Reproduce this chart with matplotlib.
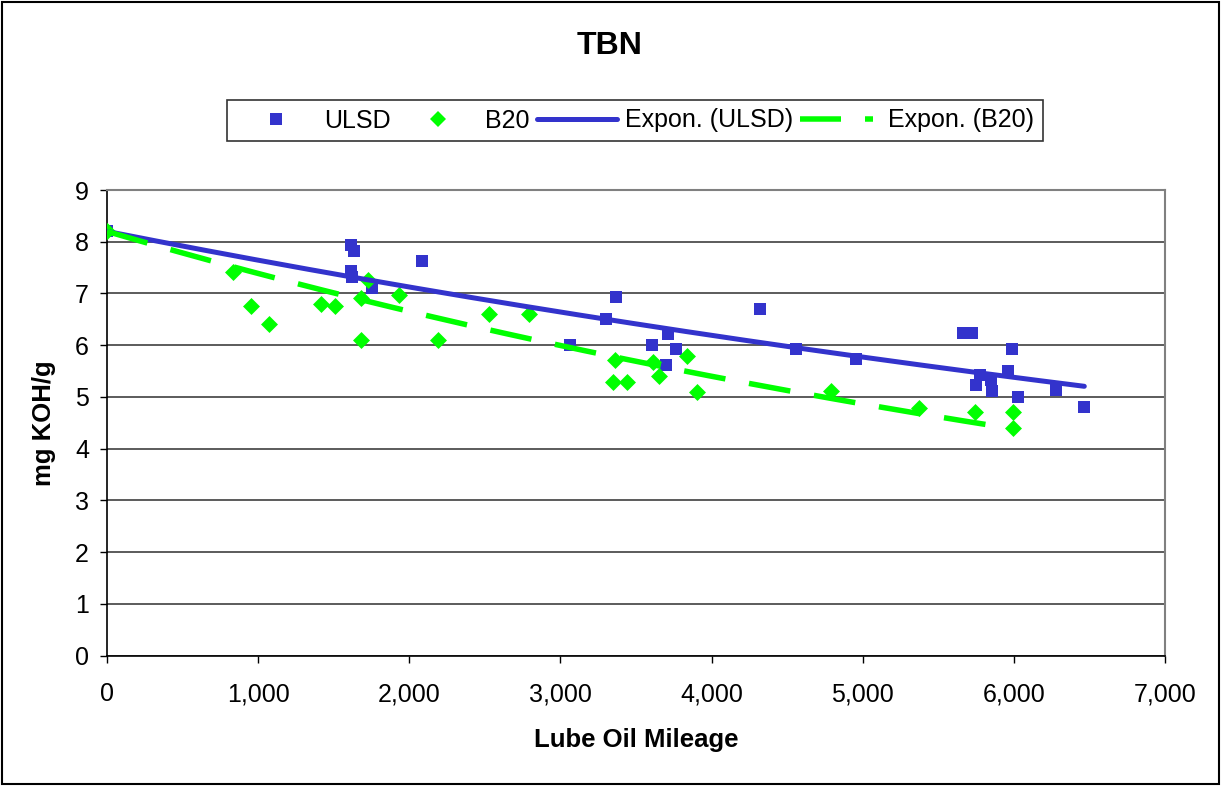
import numpy as np
import matplotlib
matplotlib.use("Agg")
import matplotlib.pyplot as plt
from matplotlib.lines import Line2D
from matplotlib.patches import Rectangle
from matplotlib.ticker import FuncFormatter, MultipleLocator

plt.rcParams['font.family'] = ['Liberation Sans', 'DejaVu Sans']
plt.rcParams['lines.scale_dashes'] = False

# ---- data ----
ulsd_x = [0, 1617, 1635, 1613, 1622, 1752, 2085, 3064, 3303, 3369, 3607, 3700,
          3713, 3766, 4320, 4558, 4955, 5663, 5725, 5751, 5778, 5846, 5857,
          5963, 5989, 6029, 6278, 6466]
ulsd_y = [8.2, 7.94, 7.83, 7.44, 7.31, 7.11, 7.63, 6.01, 6.50, 6.93, 6.01, 5.62,
          6.22, 5.93, 6.70, 5.92, 5.73, 6.24, 6.24, 5.24, 5.42, 5.32, 5.12,
          5.50, 5.92, 5.00, 5.14, 4.80]

b20_x = [0, 834, 953, 1072, 1416, 1509, 1683, 1683, 1725, 1933, 2187, 2526,
         2793, 3347, 3360, 3439, 3614, 3651, 3837, 3903, 4792, 5372, 5743,
         5996, 5996]
b20_y = [8.2, 7.41, 6.75, 6.41, 6.79, 6.75, 6.92, 6.10, 7.27, 6.98, 6.10, 6.60,
         6.60, 5.29, 5.72, 5.29, 5.68, 5.40, 5.79, 5.09, 5.11, 4.78, 4.71,
         4.71, 4.40]

trend_intercept = 8.2  # exponential trendlines with intercept set at 8.2

series_names = ["ULSD", "B20", "Expon. (ULSD)", "Expon. (B20)"]
title = "TBN"
xlabel = "Lube Oil Mileage"
ylabel = "mg KOH/g"

BLUE = "#3333CC"
GREEN = "#00FF00"


def expfit(x, y, c):
    """Exponential fit y = c*exp(b*x) with intercept fixed at c (least squares on ln y)."""
    x = np.asarray(x, float)
    y = np.asarray(y, float)
    b = np.sum(x * (np.log(y) - np.log(c))) / np.sum(x * x)
    xs = np.linspace(x.min(), x.max(), 200)
    return xs, c * np.exp(b * xs)


fig = plt.figure(figsize=(12.25, 7.86), dpi=100)
ax = fig.add_axes([107 / 1225, 1 - 655.7 / 786, (1165 - 107) / 1225, (655.7 - 190) / 786])

px = 0.72  # points per pixel

ax.set_axisbelow(True)
ax.yaxis.grid(True, color="#404040", lw=1.2)

ux, uy = expfit(ulsd_x, ulsd_y, trend_intercept)
bx, by = expfit(b20_x, b20_y, trend_intercept)

ax.scatter(ulsd_x, ulsd_y, marker='s', s=(12 * px) ** 2, color=BLUE, zorder=3, linewidths=0)
ax.scatter(b20_x, b20_y, marker='D', s=(12 * px) ** 2, color=GREEN, zorder=3, linewidths=0)
ax.plot(ux, uy, color=BLUE, lw=5 * px, solid_capstyle='round', zorder=4)
ax.plot(bx, by, color=GREEN, lw=5.5 * px, dashes=(42 * px, 24 * px), dash_capstyle='butt', zorder=4)

ax.set_xlim(0, 7000)
ax.set_ylim(0, 9)
ax.xaxis.set_major_locator(MultipleLocator(1000))
ax.yaxis.set_major_locator(MultipleLocator(1))
ax.xaxis.set_major_formatter(FuncFormatter(lambda v, p: f"{int(v):,}"))

for s in ['top', 'right']:
    ax.spines[s].set_color("#808080")
    ax.spines[s].set_linewidth(1.5)
for s in ['left', 'bottom']:
    ax.spines[s].set_color("black")
    ax.spines[s].set_linewidth(1.2)

ax.tick_params(axis='both', direction='out', length=5, width=1, labelsize=18)
ax.tick_params(axis='x', pad=14)
ax.tick_params(axis='y', pad=8)

ax.set_xlabel(xlabel, fontsize=18.5, fontweight='bold', labelpad=16)
ax.set_ylabel(ylabel, fontsize=18.5, fontweight='bold', labelpad=14)

fig.text(610 / 1225, 1 - 46 / 786, title, fontsize=23, fontweight='bold', ha='center', va='center')

handles = [
    Line2D([], [], ls='none', marker='s', markersize=12 * px, color=BLUE, markeredgewidth=0),
    Line2D([], [], ls='none', marker='D', markersize=12 * px, color=GREEN, markeredgewidth=0),
    Line2D([], [], color=BLUE, lw=5 * px, solid_capstyle='round'),
    Line2D([], [], color=GREEN, lw=5.5 * px, dashes=(41 * px, 24 * px, 8 * px, 24 * px)),
]
leg = fig.legend(handles, series_names, loc='center', ncol=4,
                 bbox_to_anchor=(635 / 1225, 1 - 120.5 / 786),
                 fontsize=18, frameon=True, fancybox=False, edgecolor='black',
                 handlelength=3.2, handletextpad=0.3, columnspacing=0.3,
                 borderpad=0.35)
leg.get_frame().set_linewidth(1.2)

fig.patches.append(Rectangle((2 / 1225, 2 / 786), 1217 / 1225, 782 / 786, transform=fig.transFigure,
                             fill=False, edgecolor='black', lw=1.5))

fig.savefig("out.png", dpi=100)
